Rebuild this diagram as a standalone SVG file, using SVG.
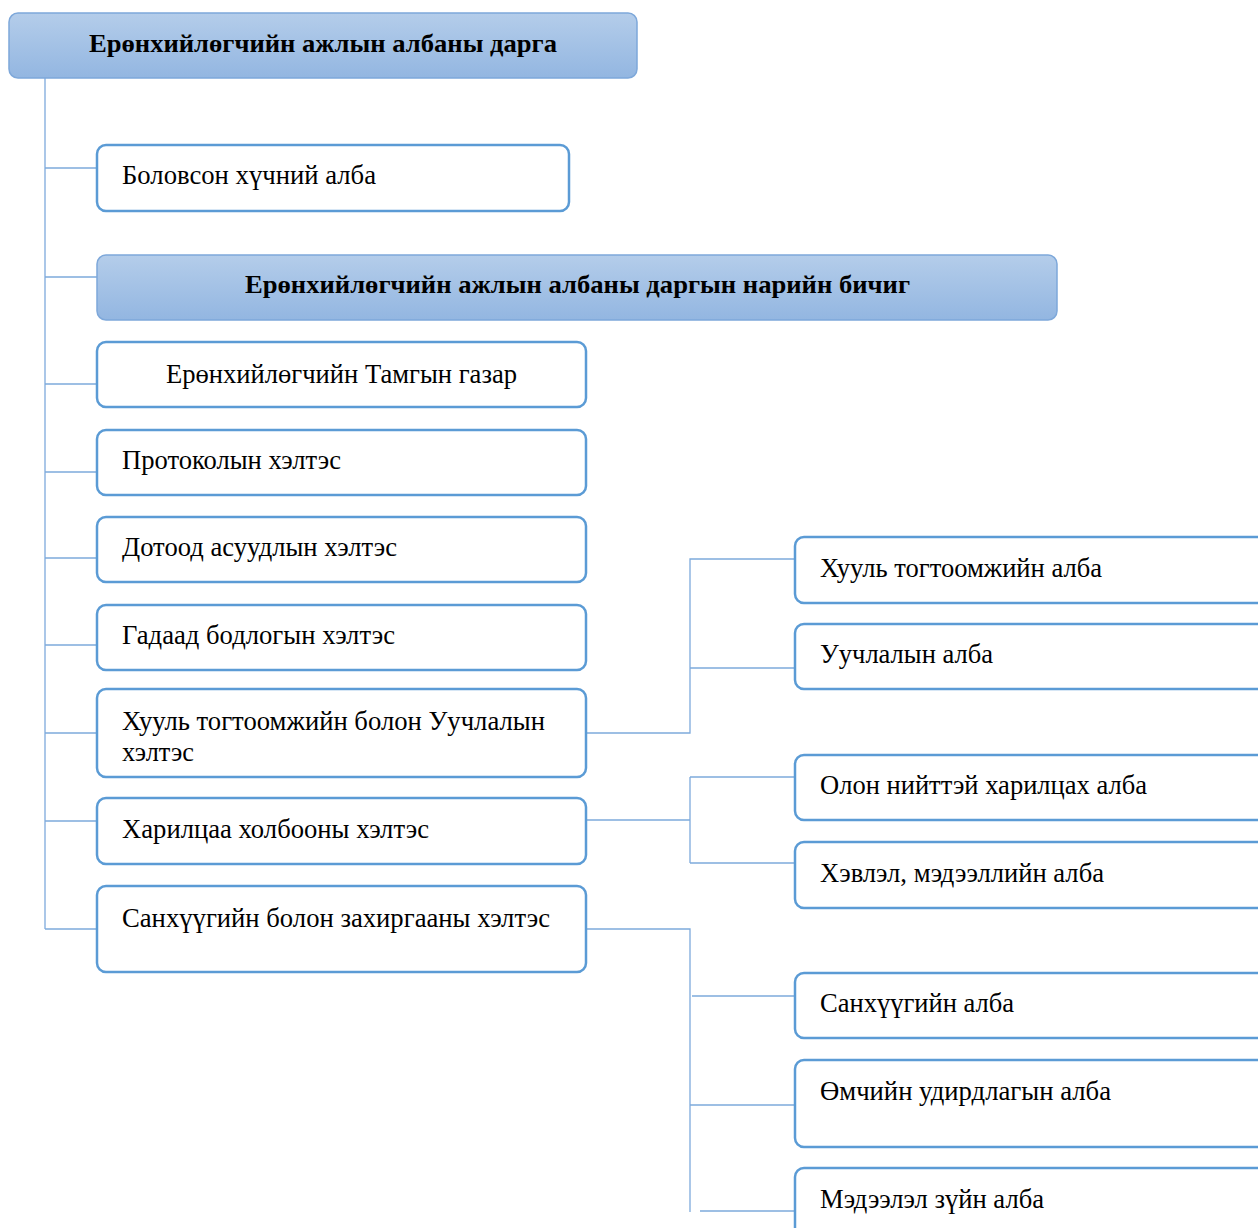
<svg xmlns="http://www.w3.org/2000/svg" width="1258" height="1228" viewBox="0 0 1258 1228">
<defs>
<linearGradient id="hg" x1="0" y1="0" x2="0" y2="1">
<stop offset="0" stop-color="#b4cdea"/>
<stop offset="1" stop-color="#93b6e1"/>
</linearGradient>
</defs>
<style>
.hd{fill:url(#hg);stroke:#7ea8da;stroke-width:1.5}
.bx{fill:#fff;stroke:#5b9bd5;stroke-width:2.5}
.t{font-family:"Liberation Serif","Times New Roman",serif;font-size:27px;fill:#000}
.b{font-weight:bold;font-size:26px}
.c{fill:none;stroke:#7eaadc;stroke-width:1.3}
</style>
<rect width="1258" height="1228" fill="#fff"/>
<g id="connectors">
<path class="c" d="M45 78V929M45 168H97M45 277H97M45 384H97M45 472H97M45 558H97M45 645H97M45 733H97M45 821H97M45 929H97"/>
<path class="c" d="M586 733H690V559H795M690 668H795"/>
<path class="c" d="M586 820H690M690 777V863M690 777H795M690 863H795"/>
<path class="c" d="M586 929H690V1212M692 996H795M690 1105H795M700 1211H795"/>
</g>
<g id="n0"><rect class="hd" x="9" y="13" width="628" height="65" rx="9"/><text class="t b" x="89" y="52" textLength="468" lengthAdjust="spacingAndGlyphs">Ерөнхийлөгчийн ажлын албаны дарга</text></g>
<g id="n1"><rect class="bx" x="97" y="145" width="472" height="66" rx="9"/><text class="t" x="122" y="184" textLength="254" lengthAdjust="spacingAndGlyphs">Боловсон хүчний алба</text></g>
<g id="n2"><rect class="hd" x="97" y="255" width="960" height="65" rx="9"/><text class="t b" x="245" y="293" textLength="665" lengthAdjust="spacingAndGlyphs">Ерөнхийлөгчийн ажлын албаны даргын нарийн бичиг</text></g>
<g id="n3"><rect class="bx" x="97" y="342" width="489" height="65" rx="9"/><text class="t" x="166" y="383" textLength="351" lengthAdjust="spacingAndGlyphs">Ерөнхийлөгчийн Тамгын газар</text></g>
<g id="n4"><rect class="bx" x="97" y="430" width="489" height="65" rx="9"/><text class="t" x="122" y="469" textLength="219" lengthAdjust="spacingAndGlyphs">Протоколын хэлтэс</text></g>
<g id="n5"><rect class="bx" x="97" y="517" width="489" height="65" rx="9"/><text class="t" x="122" y="556" textLength="275" lengthAdjust="spacingAndGlyphs">Дотоод асуудлын хэлтэс</text></g>
<g id="n6"><rect class="bx" x="97" y="605" width="489" height="65" rx="9"/><text class="t" x="122" y="644" textLength="273" lengthAdjust="spacingAndGlyphs">Гадаад бодлогын хэлтэс</text></g>
<g id="n7"><rect class="bx" x="97" y="689" width="489" height="88" rx="9"/><text class="t" x="122" y="730" textLength="423" lengthAdjust="spacingAndGlyphs">Хууль тогтоомжийн болон Уучлалын</text><text class="t" x="122" y="761" textLength="72" lengthAdjust="spacingAndGlyphs">хэлтэс</text></g>
<g id="n8"><rect class="bx" x="97" y="798" width="489" height="66" rx="9"/><text class="t" x="122" y="838" textLength="307" lengthAdjust="spacingAndGlyphs">Харилцаа холбооны хэлтэс</text></g>
<g id="n9"><rect class="bx" x="97" y="886" width="489" height="86" rx="9"/><text class="t" x="122" y="927" textLength="428" lengthAdjust="spacingAndGlyphs">Санхүүгийн болон захиргааны хэлтэс</text></g>
<g id="n10"><rect class="bx" x="795" y="537" width="480" height="66" rx="9"/><text class="t" x="820" y="577" textLength="282" lengthAdjust="spacingAndGlyphs">Хууль тогтоомжийн алба</text></g>
<g id="n11"><rect class="bx" x="795" y="624" width="480" height="65" rx="9"/><text class="t" x="820" y="663" textLength="173" lengthAdjust="spacingAndGlyphs">Уучлалын алба</text></g>
<g id="n12"><rect class="bx" x="795" y="755" width="480" height="65" rx="9"/><text class="t" x="820" y="794" textLength="327" lengthAdjust="spacingAndGlyphs">Олон нийттэй харилцах алба</text></g>
<g id="n13"><rect class="bx" x="795" y="842" width="480" height="66" rx="9"/><text class="t" x="820" y="882" textLength="284" lengthAdjust="spacingAndGlyphs">Хэвлэл, мэдээллийн алба</text></g>
<g id="n14"><rect class="bx" x="795" y="973" width="480" height="65" rx="9"/><text class="t" x="820" y="1012" textLength="194" lengthAdjust="spacingAndGlyphs">Санхүүгийн алба</text></g>
<g id="n15"><rect class="bx" x="795" y="1060" width="480" height="87" rx="9"/><text class="t" x="820" y="1100" textLength="291" lengthAdjust="spacingAndGlyphs">Өмчийн удирдлагын алба</text></g>
<g id="n16"><rect class="bx" x="795" y="1168" width="480" height="80" rx="9"/><text class="t" x="820" y="1208" textLength="224" lengthAdjust="spacingAndGlyphs">Мэдээлэл зүйн алба</text></g>
</svg>
